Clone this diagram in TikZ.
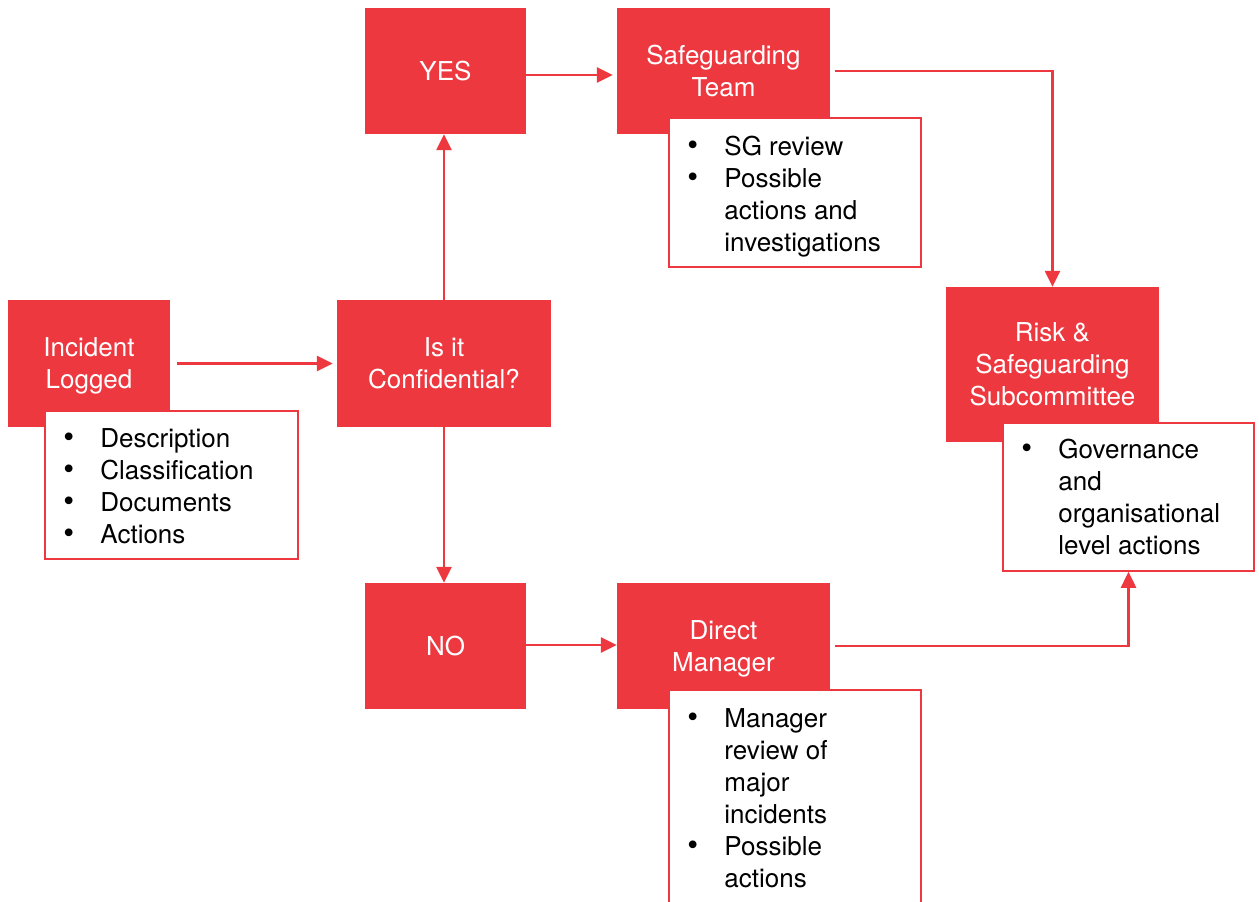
\documentclass[tikz,border=0pt]{standalone}
\usepackage{fontspec}
\setmainfont{TeX Gyre Heros}
\usetikzlibrary{arrows.meta}
\definecolor{cred}{RGB}{238,56,64}
\newcommand{\bigfont}{\fontsize{26}{32}\selectfont}
\newcommand{\bul}{\raisebox{-0.5pt}{\fontsize{31}{31}\selectfont\textbullet}}
\begin{document}
\begin{tikzpicture}[x=1pt,y=-1pt,
  redbox/.style={fill=cred,text=white,align=center,inner sep=0pt,font=\bigfont,text depth=-2pt},
  detbox/.style={draw=cred,fill=white,line width=1.5pt,inner sep=0pt},
  blist/.style={anchor=north west,inner sep=0pt,font=\bigfont,text=black,align=left},
  arr/.style={draw=cred,line width=2.5pt,-{Triangle[length=16pt,width=15pt]}}
]
\clip (0,0) rectangle (1259,902);
\fill[white] (0,0) rectangle (1259,902);

% red boxes
\node[redbox,minimum width=162pt,minimum height=127pt] (inc) at (89,363.5) {Incident\\Logged};
\node[redbox,minimum width=214pt,minimum height=127pt] (conf) at (444,363.5) {Is it\\Confidential?};
\node[redbox,minimum width=161pt,minimum height=126pt] (yes) at (445.5,71) {YES};
\node[redbox,minimum width=213pt,minimum height=126pt] (sg) at (723.5,71) {Safeguarding\\Team};
\node[redbox,minimum width=213pt,minimum height=155pt] (risk) at (1052.5,364.5) {Risk \&\\Safeguarding\\Subcommittee};
\node[redbox,minimum width=161pt,minimum height=126pt] (no) at (445.5,646) {NO};
\node[redbox,minimum width=213pt,minimum height=126pt] (dm) at (723.5,646) {Direct\\Manager};

% detail boxes
\node[detbox,minimum width=253pt,minimum height=148pt] (incd) at (171.5,485) {};
\node[detbox,minimum width=252pt,minimum height=149pt] (sgd) at (795,192.5) {};
\node[detbox,minimum width=251pt,minimum height=148pt] (gov) at (1128.5,497) {};
\node[detbox,minimum width=252pt,minimum height=230pt] (dmd) at (795,805) {};

\node[blist] (incl) at ([xshift=19pt,yshift=-14.6pt]incd.north west)
  {\begin{tabular}{@{}p{37pt}@{}l@{}}\bul & Description\\ \bul & Classification\\ \bul & Documents\\ \bul & Actions\end{tabular}};
\node[blist] (sgl) at ([xshift=19pt,yshift=-15.6pt]sgd.north west)
  {\begin{tabular}{@{}p{37pt}@{}l@{}}\bul & SG review\\ \bul & Possible\\ & actions and\\ & investigations\end{tabular}};
\node[blist] (govl) at ([xshift=19pt,yshift=-13.6pt]gov.north west)
  {\begin{tabular}{@{}p{37pt}@{}l@{}}\bul & Governance\\ & and\\ & organisational\\ & level actions\end{tabular}};
\node[blist] (dml) at ([xshift=19pt,yshift=-15.6pt]dmd.north west)
  {\begin{tabular}{@{}p{37pt}@{}l@{}}\bul & Manager\\ & review of\\ & major\\ & incidents\\ \bul & Possible\\ & actions\end{tabular}};

% connectors
\draw[arr] ([xshift=7pt]inc.east) -- ([xshift=-4pt]conf.west);
\draw[arr] (conf.north) -- (conf.north |- yes.south);
\draw[arr] (conf.south) -- (conf.south |- no.north);
\draw[arr] ([yshift=-4pt]yes.east) -- ([yshift=-4pt,xshift=-4pt]yes.east -| sg.west);
\draw[arr] ([xshift=5pt]sg.east) -| (risk.north);
\draw[arr] ([yshift=1pt]no.east) -- ([yshift=1pt]no.east -| dm.west);
\draw[arr] ([xshift=5pt]dm.east) -| (gov.south);
\end{tikzpicture}
\end{document}
